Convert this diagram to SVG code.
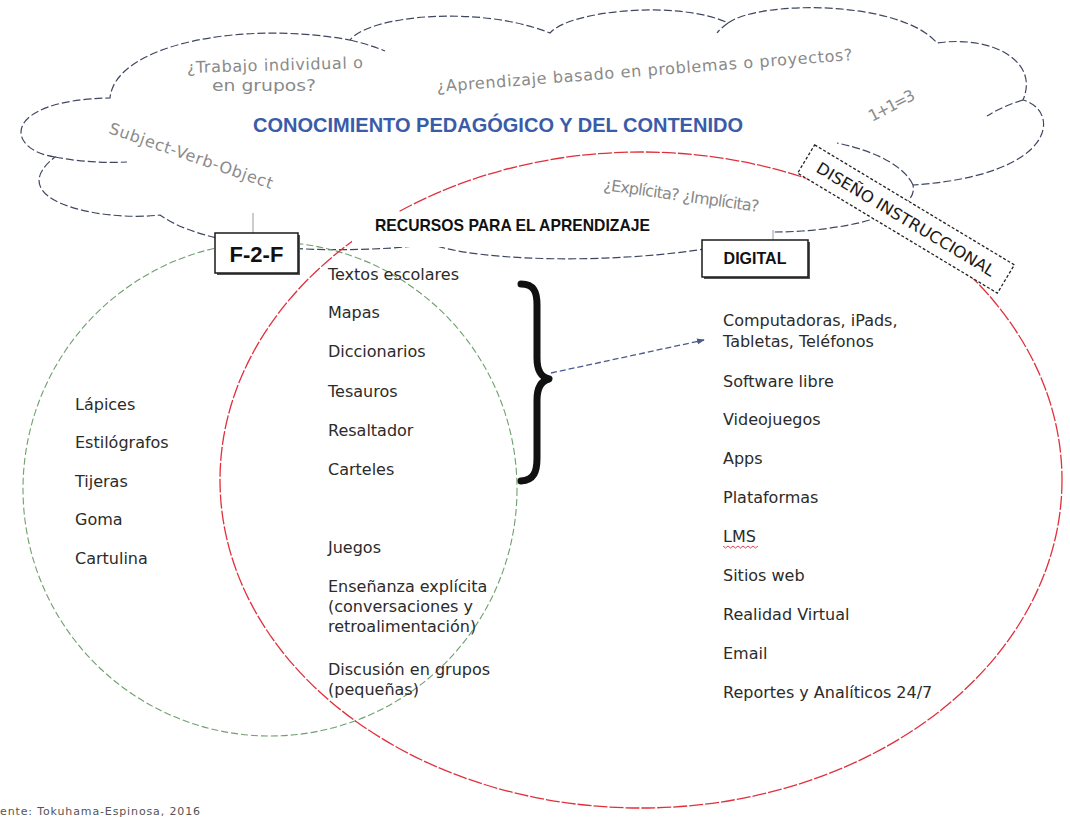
<svg xmlns="http://www.w3.org/2000/svg" width="1070" height="817" viewBox="0 0 1070 817">
  <style>
    .cloud { fill: #ffffff; stroke: #3f4660; stroke-width: 1.2; stroke-dasharray: 8 3; }
    .tail { fill: none; stroke: #3f4660; stroke-width: 1.2; stroke-dasharray: 8 3; }
    .note { font-family: "DejaVu Sans", sans-serif; font-size: 16px; fill: #8a8a8a; }
    .item { font-family: "DejaVu Sans", sans-serif; font-size: 16px; fill: #2b2b2b; }
    .head { font-family: "Liberation Sans", Arial, sans-serif; font-weight: bold; fill: #111111; }
    .box { fill: #ffffff; stroke: #1a1a1a; stroke-width: 1.5; }
    .shadow { fill: #555555; }
    .tick { stroke: #9a9a9a; stroke-width: 1; }
  </style>
  <defs>
    <marker id="arrowhead" viewBox="0 0 10 10" refX="9" refY="5" markerWidth="6" markerHeight="6" orient="auto">
      <path d="M0 1 L10 5 L0 9 Z" fill="#4a5a8a"/>
    </marker>
  </defs>

  <rect width="1070" height="817" fill="#ffffff"/>

  <!-- cloud: pedagogical content knowledge -->
  <g id="cloud">
    <path class="cloud" d="M 55 157 C 5 150, 0 100, 110 98 C 115 45, 240 20, 350 40 C 370 15, 480 5, 550 33 C 570 10, 680 0, 728 23 C 760 0, 900 0, 937 43 C 990 35, 1040 60, 1023 100 C 1060 110, 1060 175, 913 185 C 920 215, 840 232, 773 232 C 700 262, 500 268, 430 244 C 380 252, 220 258, 160 215 C 100 222, 0 200, 55 157 Z"/>
    <path class="tail" d="M 55 157 C 80 162, 105 163, 127 162"/>
    <path class="tail" d="M 350 40 C 362 43, 373 46, 385 51"/>
    <path class="tail" d="M 728 23 C 724 26, 720 29, 717 33"/>
    <path class="tail" d="M 1023 100 C 1010 104, 998 109, 987 116"/>
    <path class="tail" d="M 913 185 C 905 168, 880 152, 837 143"/>
  </g>

  <!-- face-to-face circle -->
  <g id="f2f-circle">
    <circle cx="270" cy="489" r="247" fill="none" stroke="#6f9f6f" stroke-width="1.1" stroke-dasharray="7 3"/>
  </g>

  <!-- digital ellipse -->
  <g id="digital-ellipse">
    <ellipse cx="641" cy="480" rx="421" ry="328" fill="none" stroke="#e0303c" stroke-width="1.3" stroke-dasharray="14 2"/>
  </g>

  <!-- label backing for the resources heading -->
  <rect x="352" y="212" width="420" height="35" fill="#ffffff"/>

  <!-- texts inside the cloud -->
  <g id="cloud-notes">
    <text class="note" x="187" y="73" textLength="176" lengthAdjust="spacing" transform="rotate(-1.6 187 73)">¿Trabajo individual o</text>
    <text class="note" x="212" y="91" textLength="104" lengthAdjust="spacingAndGlyphs">en grupos?</text>
    <text class="note" x="437" y="92" textLength="417" lengthAdjust="spacing" transform="rotate(-4.4 437 92)">¿Aprendizaje basado en problemas o proyectos?</text>
    <text class="note" x="108" y="133" textLength="172" lengthAdjust="spacing" transform="rotate(19 108 133)">Subject-Verb-Object</text>
    <text class="note" x="872" y="122" font-size="12" textLength="50" lengthAdjust="spacing" transform="rotate(-27.5 872 122)">1+1=3</text>
    <text class="note" x="603" y="190" font-size="12" textLength="157" lengthAdjust="spacing" transform="rotate(8 603 190)">¿Explícita? ¿Implícita?</text>
    <text x="498" y="132" text-anchor="middle" font-family="Liberation Sans, Arial, sans-serif" font-weight="bold" font-size="20" fill="#3a5ca8" textLength="490" lengthAdjust="spacingAndGlyphs">CONOCIMIENTO PEDAGÓGICO Y DEL CONTENIDO</text>
  </g>

  <g id="resources-title">
    <text class="head" x="375" y="231" font-size="17" textLength="275" lengthAdjust="spacingAndGlyphs">RECURSOS PARA EL APRENDIZAJE</text>
  </g>

  <!-- short leader ticks above the two labels -->
  <line class="tick" x1="253" y1="213" x2="253" y2="233"/>
  <line class="tick" x1="773" y1="230" x2="773" y2="240"/>

  <!-- F-2-F label -->
  <g id="f2f-label">
    <rect class="shadow" x="217" y="235" width="83" height="40"/>
    <rect class="box" x="215" y="233" width="83" height="40"/>
    <text class="head" x="256.5" y="262" font-size="22" text-anchor="middle">F-2-F</text>
  </g>

  <!-- DIGITAL label -->
  <g id="digital-label">
    <rect class="shadow" x="704" y="242" width="106" height="37"/>
    <rect class="box" x="702" y="240" width="106" height="37"/>
    <text class="head" x="755" y="264" font-size="16" text-anchor="middle">DIGITAL</text>
  </g>

  <!-- instructional design tag -->
  <g id="instructional-design" transform="translate(906 219) rotate(31)">
    <rect x="-116.5" y="-16.5" width="233" height="33" fill="#ffffff" stroke="#222222" stroke-width="1.3" stroke-dasharray="3 2"/>
    <text x="0" y="6" text-anchor="middle" font-family="DejaVu Sans, sans-serif" font-size="16" fill="#1a1a1a" textLength="205" lengthAdjust="spacingAndGlyphs">DISEÑO INSTRUCCIONAL</text>
  </g>

  <!-- face-to-face only -->
  <g id="f2f-items">
    <text class="item" x="75" y="410">Lápices</text>
    <text class="item" x="75" y="448">Estilógrafos</text>
    <text class="item" x="75" y="487">Tijeras</text>
    <text class="item" x="75" y="525">Goma</text>
    <text class="item" x="75" y="564">Cartulina</text>
  </g>

  <!-- shared resources -->
  <g id="shared-items">
    <text class="item" x="328" y="280">Textos escolares</text>
    <text class="item" x="328" y="318">Mapas</text>
    <text class="item" x="328" y="357">Diccionarios</text>
    <text class="item" x="328" y="397">Tesauros</text>
    <text class="item" x="328" y="436">Resaltador</text>
    <text class="item" x="328" y="475">Carteles</text>
    <text class="item" x="328" y="553">Juegos</text>
    <text class="item" x="328" y="592">Enseñanza explícita</text>
    <text class="item" x="328" y="612">(conversaciones y</text>
    <text class="item" x="328" y="632">retroalimentación)</text>
    <text class="item" x="328" y="675">Discusión en grupos</text>
    <text class="item" x="328" y="695">(pequeñas)</text>
  </g>

  <!-- digital only -->
  <g id="digital-items">
    <text class="item" x="723" y="326">Computadoras, iPads,</text>
    <text class="item" x="723" y="347">Tabletas, Teléfonos</text>
    <text class="item" x="723" y="387">Software libre</text>
    <text class="item" x="723" y="425">Videojuegos</text>
    <text class="item" x="723" y="464">Apps</text>
    <text class="item" x="723" y="503">Plataformas</text>
    <text class="item" x="723" y="542">LMS</text>
    <path d="M 723 546 l 2.5 2 l 2.5 -2 l 2.5 2 l 2.5 -2 l 2.5 2 l 2.5 -2 l 2.5 2 l 2.5 -2 l 2.5 2 l 2.5 -2 l 2.5 2 l 2.5 -2 l 2.5 2 l 2.5 -2" fill="none" stroke="#e0303c" stroke-width="0.9"/>
    <text class="item" x="723" y="581">Sitios web</text>
    <text class="item" x="723" y="620">Realidad Virtual</text>
    <text class="item" x="723" y="659">Email</text>
    <text class="item" x="723" y="698">Reportes y Analíticos 24/7</text>
  </g>

  <!-- brace grouping the shared print resources -->
  <g id="brace">
    <path d="M 521 284 C 534 284, 537 292, 537 305 L 537 358 C 537 371, 541 377, 549 379 C 541 381, 537 388, 537 400 L 537 458 C 537 472, 534 480, 521 481" fill="none" stroke="#111111" stroke-width="7" stroke-linecap="round" stroke-linejoin="round"/>
  </g>

  <g id="connectors">
    <line x1="551" y1="373" x2="704" y2="340" stroke="#4a5a8a" stroke-width="1.3" stroke-dasharray="6 3" marker-end="url(#arrowhead)"/>
  </g>

  <text x="0" y="815" font-family="DejaVu Sans, sans-serif" font-size="11" fill="#555555" textLength="200" lengthAdjust="spacing">ente: Tokuhama-Espinosa, 2016</text>
</svg>
